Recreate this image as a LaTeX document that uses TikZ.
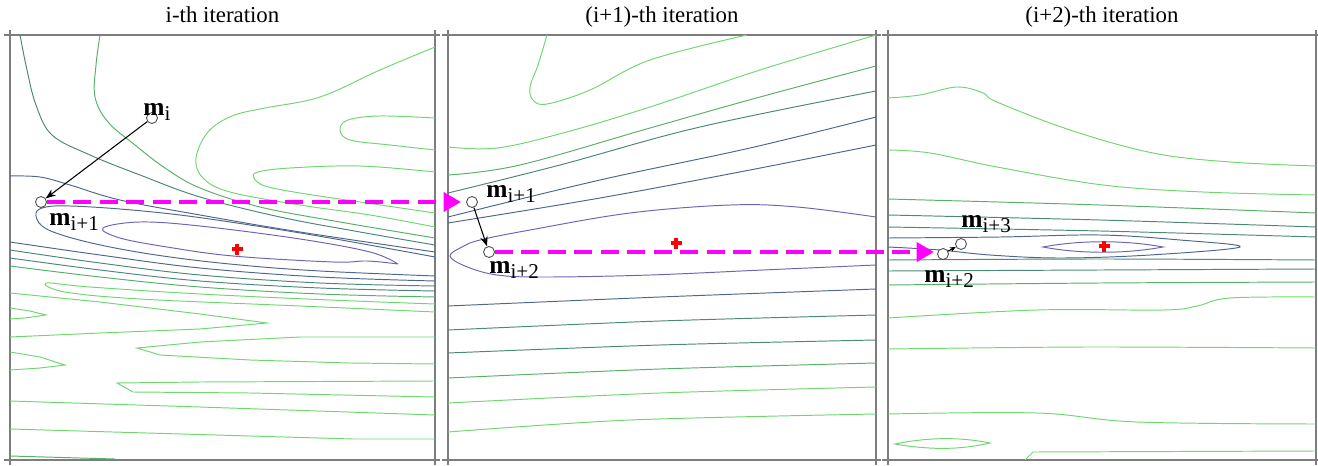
\documentclass[tikz,border=0pt]{standalone}
\usepackage{fontspec}
\setmainfont{Liberation Serif}
\usetikzlibrary{arrows.meta, positioning}

\definecolor{isolight}{RGB}{112,214,112}
\definecolor{isogreen}{RGB}{88,176,104}
\definecolor{isoteal}{RGB}{76,136,120}
\definecolor{isoslate}{RGB}{78,104,140}
\definecolor{isoviolet}{RGB}{108,100,182}
\definecolor{framegray}{RGB}{125,125,125}
\definecolor{jumppink}{RGB}{255,0,255}

\tikzset{
  iso1/.style={draw=isolight, line width=0.55pt},
  iso2/.style={draw=isogreen, line width=0.55pt},
  iso3/.style={draw=isoteal, line width=0.55pt},
  iso4/.style={draw=isoslate, line width=0.55pt},
  iso5/.style={draw=isoviolet, line width=0.55pt}
}
\tikzset{
  panelframe/.style={draw=framegray, line width=0.7pt},
  paneltitle/.style={font=\fontsize{13}{13}\selectfont, anchor=base, inner sep=0pt},
  iterpt/.style={circle, draw=black!70, fill=white, inner sep=0pt, minimum size=0.22cm, line width=0.5pt},
  mlabel/.style={anchor=base west, inner sep=0pt},
  steparrow/.style={-{Stealth[length=0.2cm,width=0.15cm]}, line width=0.6pt},
  jumpline/.style={jumppink, line width=2.3pt, dash pattern=on 0.36cm off 0.17cm,
    -{Triangle[length=0.35cm,width=0.38cm]}},
  optmark/.style={red, line width=2.2pt}
}
\newcommand{\mvec}[1]{{\fontsize{14.5}{14.5}\selectfont\bfseries m}\raisebox{-0.1cm}{\fontsize{12}{12}\selectfont #1}}

\begin{document}
\begin{tikzpicture}[x=0.02cm, y=-0.02cm]
  \useasboundingbox (0,0) rectangle (1318,466);

  % panel frames and titles
  \foreach \xa/\xb in {10/435, 448/876, 888/1316} {
    \draw[panelframe] (\xa-6,35) -- (\xb+5,35);
    \draw[panelframe] (\xa-6,460) -- (\xb+5,460);
    \draw[panelframe] (\xa,30) -- (\xa,465);
    \draw[panelframe] (\xb,30) -- (\xb,465);
  }
  \node[paneltitle] (titleA) at (222.5,23) {i-th iteration};
  \node[paneltitle] (titleB) at (662,23) {(i+1)-th iteration};
  \node[paneltitle] (titleC) at (1102,23) {(i+2)-th iteration};

  % contours, i-th iteration
  \draw[iso1] plot[smooth, tension=0.6] coordinates {(435,47) (380,70) (320,97) (265,108) (232,116) (208,132) (196,158) (203,178) (230,192) (300,205) (370,215) (435,227)};
  \draw[iso1] plot[smooth, tension=0.6] coordinates {(435,118) (380,116) (348,120) (340,130) (350,140) (390,145) (435,150)};
  \draw[iso1] plot[smooth, tension=0.6] coordinates {(435,172) (360,166) (290,168) (258,172) (254,178) (265,186) (300,193) (360,202) (435,213)};
  \draw[iso2] plot[smooth, tension=0.6] coordinates {(100,35) (96,65) (95,97) (108,122) (135,145) (165,168) (200,188) (260,207) (340,222) (435,238)};
  \draw[iso3] plot[smooth, tension=0.6] coordinates {(20,35) (27,70) (36,105) (52,135) (90,155) (140,175) (200,197) (280,217) (360,232) (435,245)};
  \draw[iso4] plot[smooth, tension=0.6] coordinates {(10,176) (40,177) (70,185) (120,200) (200,215) (300,232) (435,252)};
  \draw[iso4] plot[smooth, tension=0.6] coordinates {(435,257) (330,238) (250,225) (180,215) (120,209) (70,206) (46,207) (36,213) (42,226) (65,236) (110,247) (170,257) (240,265) (320,271) (435,276)};
  \draw[iso5] plot[smooth, tension=0.6] coordinates {(398,264) (370,252) (300,239) (200,226) (140,222) (103,228) (120,238) (167,247) (233,256) (333,262) (367,261) (398,264)};
  \draw[iso4] plot[smooth, tension=0.6] coordinates {(10,242) (100,255) (200,268) (320,277) (435,281)};
  \draw[iso3] plot[smooth, tension=0.6] coordinates {(10,250) (100,263) (200,275) (320,283) (435,286)};
  \draw[iso3] plot[smooth, tension=0.6] coordinates {(10,258) (100,270) (200,281) (320,288) (435,291)};
  \draw[iso2] plot[smooth, tension=0.6] coordinates {(10,266) (100,277) (200,287) (320,294) (435,297)};
  \draw[iso1] plot[smooth, tension=0.6] coordinates {(435,304) (330,300) (200,294) (90,287) (46,283) (65,292) (140,299) (300,306) (435,312)};
  \draw[iso1] (10,293) -- (100,302) -- (200,314) -- (267,323) -- (200,329) -- (100,333) -- (10,337);
  \draw[iso1] (10,308) -- (30,311) -- (46,315) -- (25,318) -- (10,319);
  \draw[iso1] (435,337) -- (300,337) -- (200,342) -- (137,348) -- (160,355) -- (250,360) -- (350,363) -- (435,364);
  \draw[iso1] (10,352) -- (40,357) -- (65,365) -- (40,368) -- (10,370);
  \draw[iso1] (435,381) -- (200,382) -- (117,383) -- (133,392) -- (250,393) -- (435,397);
  \draw[iso1] (10,401) -- (200,407) -- (435,415);
  \draw[iso1] (10,429) -- (353,439) -- (435,439);
  \draw[iso2] (10,456) -- (115,459);

  % contours, (i+1)-th iteration
  \draw[iso1] plot[smooth, tension=0.6] coordinates {(547,35) (538,65) (530,87) (533,100) (547,104) (590,90) (650,60) (747,35)};
  \draw[iso1] plot[smooth, tension=0.6] coordinates {(448,147) (497,148) (563,133) (650,107) (760,70) (876,35)};
  \draw[iso2] plot[smooth, tension=0.6] coordinates {(448,175) (520,165) (650,128) (760,97) (876,66)};
  \draw[iso3] plot[smooth, tension=0.6] coordinates {(448,193) (560,165) (700,127) (876,91)};
  \draw[iso4] plot[smooth, tension=0.6] coordinates {(448,217) (600,180) (750,148) (876,117)};
  \draw[iso4] plot[smooth, tension=0.6] coordinates {(448,223) (600,198) (750,170) (876,145)};
  \draw[iso5] plot[smooth, tension=0.6] coordinates {(876,217) (797,207) (730,205) (630,213) (530,230) (480,240) (462,247) (450,256) (465,266) (497,275) (547,277) (650,275) (763,270) (876,265)};
  \draw[iso4] plot[smooth] coordinates {(448,306) (660,297) (876,289)};
  \draw[iso3] plot[smooth] coordinates {(448,330) (660,321) (876,315)};
  \draw[iso3] plot[smooth] coordinates {(448,353) (660,345) (876,340)};
  \draw[iso2] plot[smooth] coordinates {(448,378) (660,369) (876,363)};
  \draw[iso1] plot[smooth] coordinates {(448,403) (660,393) (876,387)};
  \draw[iso1] plot[smooth] coordinates {(448,432) (630,420) (876,414)};

  % contours, (i+2)-th iteration
  \draw[iso1] plot[smooth, tension=0.6] coordinates {(888,98) (920,95) (957,87) (983,93) (997,102) (1070,130) (1153,153) (1230,162) (1316,166)};
  \draw[iso1] plot[smooth, tension=0.6] coordinates {(888,150) (930,153) (997,167) (1103,185) (1203,192) (1316,195)};
  \draw[iso2] plot[smooth] coordinates {(888,199) (1100,205) (1316,213)};
  \draw[iso3] plot[smooth] coordinates {(888,215) (1100,220) (1316,227)};
  \draw[iso3] plot[smooth] coordinates {(888,227) (1100,231) (1316,237)};
  \draw[iso4] plot[smooth, tension=0.6] coordinates {(888,238) (1000,237) (1100,235) (1180,240) (1240,247) (1150,255) (1060,258) (990,255) (940,250) (888,247)};
  \draw[iso5] (1043,247) .. controls (1080,240) and (1125,240) .. (1163,247) .. controls (1125,254) and (1080,254) .. cycle;
  \draw[iso3] plot[smooth] coordinates {(888,260) (1100,259) (1316,260)};
  \draw[iso3] plot[smooth] coordinates {(888,271) (1100,270) (1316,269)};
  \draw[iso2] plot[smooth] coordinates {(888,285) (1100,283) (1316,282)};
  \draw[iso1] plot[smooth, tension=0.6] coordinates {(888,318) (1037,310) (1163,310) (1197,306) (1230,298) (1316,297)};
  \draw[iso1] plot[smooth] coordinates {(888,349) (1087,347) (1316,348)};
  \draw[iso1] plot[smooth, tension=0.6] coordinates {(888,414) (1037,413) (1137,422) (1316,424)};
  \draw[iso1] (895,444) .. controls (930,437) and (960,437) .. (990,443) .. controls (960,450) and (930,450) .. cycle;
  \draw[iso1] (1025,460) -- (1033,452) -- (1316,451);

  % optimum marks
  \foreach \cx/\cy in {237/249, 676/243, 1104/246} {
    \draw[optmark] (\cx-5.5,\cy) -- (\cx+5.5,\cy) (\cx,\cy-5.5) -- (\cx,\cy+5.5);
  }

  % iterates and steps
  \node[iterpt] (ptA1) at (152,118) {};
  \node[iterpt] (ptA2) at (41,202) {};
  \node[iterpt] (ptB2) at (472,202) {};
  \node[iterpt] (ptB3) at (489,252) {};
  \node[iterpt] (ptC3) at (943,254) {};
  \node[iterpt] (ptC4) at (961,244) {};
  \coordinate (tipA) at (461,202);
  \coordinate (tipB) at (934,252);

  \draw[jumpline] (ptA2) -- (tipA);
  \draw[jumpline] (ptB3) -- (tipB);
  \draw[steparrow] (ptA1) -- (ptA2);
  \draw[steparrow] (ptB2) -- (ptB3);
  \draw[-{Stealth[length=0.12cm,width=0.1cm]}, line width=0.6pt] (ptC3) -- (ptC4);

  \node[mlabel] (labA1) at (143,115) {\mvec{i}};
  \node[mlabel] (labA2) at (49,225) {\mvec{i+1}};
  \node[mlabel] (labB2) at (486,197) {\mvec{i+1}};
  \node[mlabel] (labB3) at (489,273) {\mvec{i+2}};
  \node[mlabel] (labC4) at (961,227) {\mvec{i+3}};
  \node[mlabel] (labC3) at (924,282) {\mvec{i+2}};
\end{tikzpicture}
\end{document}
